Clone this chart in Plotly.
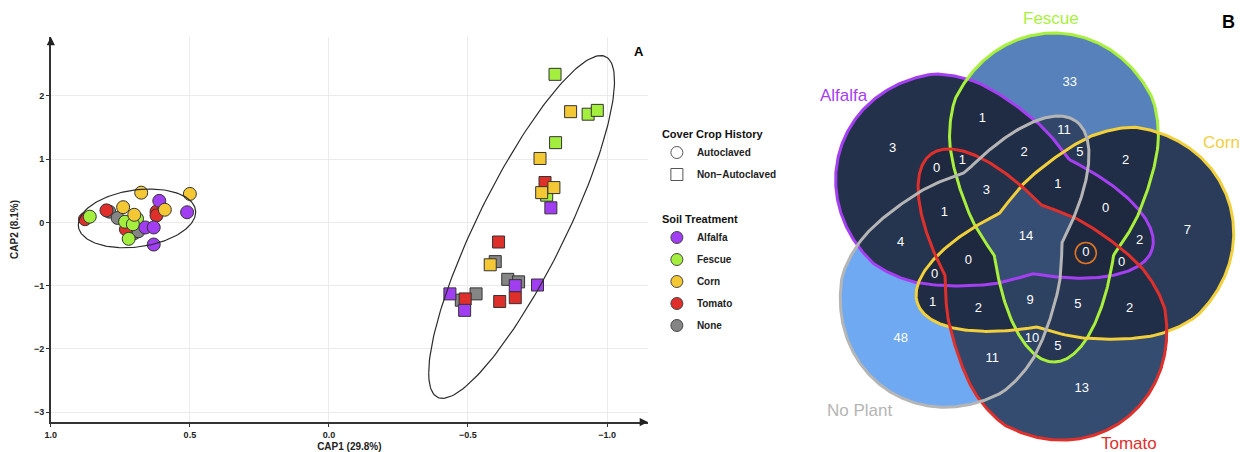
import numpy as np
import plotly.graph_objects as go

# the page body keeps an 8 px margin, so the figure is shifted by it
W, H = 1249, 452
OFF = 8
FW, FH = W - OFF, H - OFF
FONT = "Liberation Sans, Arial, Helvetica, sans-serif"

# ---------------- panel A data: CAP scores ----------------
treatments = ["Alfalfa", "Fescue", "Corn", "Tomato", "None"]
treatment_colors = ["#a23ef2", "#a4ef3e", "#f4c834", "#df2f2b", "#858585"]
draw_order = ["None", "Tomato", "Fescue", "Alfalfa", "Corn"]

# autoclaved soil (circles)
auto_treatment = ["Alfalfa"] * 5 + ["Fescue"] * 5 + ["Corn"] * 5 + ["Tomato"] * 5 + ["None"] * 5
auto_cap1 = [0.66, 0.63, 0.63, 0.61, 0.51,
             0.86, 0.733, 0.69, 0.72, 0.705,
             0.74, 0.675, 0.70, 0.59, 0.50,
             0.877, 0.80, 0.62, 0.62, 0.73,
             0.79, 0.76, 0.72, 0.70, 0.685]
auto_cap2 = [-0.08, -0.08, -0.35, 0.34, 0.16,
             0.09, 0.01, 0.06, -0.26, -0.03,
             0.24, 0.47, 0.12, 0.20, 0.45,
             0.05, 0.19, 0.17, 0.11, -0.11,
             0.17, 0.07, -0.11, -0.17, -0.14]

# non-autoclaved soil (squares)
nonauto_treatment = ["Alfalfa"] * 5 + ["Fescue"] * 5 + ["Corn"] * 5 + ["Tomato"] * 5 + ["None"] * 5
nonauto_cap1 = [-0.798, -0.670, -0.750, -0.435, -0.488,
                -0.813, -0.932, -0.965, -0.815, -0.783,
                -0.869, -0.759, -0.765, -0.809, -0.580,
                -0.777, -0.610, -0.670, -0.614, -0.490,
                -0.598, -0.643, -0.682, -0.476, -0.529]
nonauto_cap2 = [0.23, -1.00, -0.99, -1.13, -1.39,
                2.34, 1.71, 1.77, 1.26, 0.43,
                1.75, 1.01, 0.47, 0.55, -0.67,
                0.63, -0.31, -1.19, -1.25, -1.21,
                -0.62, -0.90, -0.94, -1.23, -1.13]

x_ticks = [1.0, 0.5, 0.0, -0.5, -1.0]
y_ticks = [-3, -2, -1, 0, 1, 2]
ELLIPSE_RADIUS = 2.3

# ---------------- panel B data: Venn counts ----------------
venn_sets = ["Alfalfa", "Fescue", "Corn", "Tomato", "No Plant"]
venn_letters = ["A", "F", "C", "T", "N"]
venn_regions = ["A", "F", "C", "T", "N",
                "AF", "FC", "CT", "TN", "AN",
                "AT", "FN", "AC", "FT", "CN",
                "AFN", "AFC", "FCT", "CTN", "ATN",
                "AFT", "FCN", "ACT", "FTN", "ACN",
                "AFTN", "AFCT", "ACTN", "AFCN", "FCTN",
                "AFCTN"]
venn_counts = [3, 33, 7, 13, 48,
               1, 2, 2, 11, 4,
               0, 11, 2, 5, 1,
               2, 0, 5, 2, 1,
               1, 5, 0, 10, 0,
               3, 0, 0, 1, 9,
               14]
venn_highlight = "AFCT"


def px(x, y):
    return (x - OFF) / FW, 1 - (y - OFF) / FH


fig = go.Figure()

# ---------------- panel A ----------------
for hist_t, hist_x, hist_y, sym, size in [
    (auto_treatment, auto_cap1, auto_cap2, "circle", 13),
    (nonauto_treatment, nonauto_cap1, nonauto_cap2, "square", 12),
]:
    for name in draw_order:
        col = treatment_colors[treatments.index(name)]
        xs = [x for x, t in zip(hist_x, hist_t) if t == name]
        ys = [y for y, t in zip(hist_y, hist_t) if t == name]
        fig.add_trace(go.Scatter(
            x=xs, y=ys, mode="markers", showlegend=False, hoverinfo="skip",
            marker=dict(symbol=sym, size=size, color=col,
                        line=dict(color="#333333", width=1)),
        ))

    pts = np.column_stack([hist_x, hist_y])
    centre = pts.mean(axis=0)
    chol = np.linalg.cholesky(np.cov(pts.T))
    t = np.linspace(0, 2 * np.pi, 200)
    ring = centre[:, None] + ELLIPSE_RADIUS * chol @ np.vstack([np.cos(t), np.sin(t)])
    fig.add_trace(go.Scatter(
        x=ring[0], y=ring[1], mode="lines", showlegend=False, hoverinfo="skip",
        line=dict(color="#2b2b2b", width=1.2),
    ))

# legend entries (one group per entry so the spacing can be opened up)
fig.add_trace(go.Scatter(
    x=[None], y=[None], mode="markers", name="Autoclaved",
    legendgroup="h1", legendgrouptitle_text="Cover Crop History",
    marker=dict(symbol="circle-open", size=12, color="#555555", line=dict(width=1)),
))
fig.add_trace(go.Scatter(
    x=[None], y=[None], mode="markers", name="Non\u2212Autoclaved",
    legendgroup="h2",
    marker=dict(symbol="square-open", size=12, color="#555555", line=dict(width=1)),
))
fig.add_trace(go.Scatter(
    x=[None], y=[None], mode="markers", name=" ", legendgroup="gap",
    marker=dict(size=1, color="rgba(0,0,0,0)"),
))
for i, (name, col) in enumerate(zip(treatments, treatment_colors)):
    fig.add_trace(go.Scatter(
        x=[None], y=[None], mode="markers", name=name,
        legendgroup=f"s{i}", legendgrouptitle_text="Soil Treatment" if i == 0 else None,
        marker=dict(symbol="circle", size=12, color=col, line=dict(color="#444444", width=1)),
    ))

# ---------------- panel B: five-set Venn ----------------
# teardrop shape, local frame: u along axis (head end positive), p to the right
U_MIN, U_MAX, P_OFF = -124.0, 205.0, 28.0
S_CTRL = [-1.0, -0.35, -0.26, -0.14, 0.33, 0.6, 1.0]
G_CTRL = [64, 64, 73, 83, 111, 124, 130]
set_angles = [162, 90, 18, -54, -126]
set_line_colors = ["#a540f2", "#a8f03c", "#f2d03c", "#e0302c", "#b5b5b5"]
u_mid, u_half = (U_MIN + U_MAX) / 2, (U_MAX - U_MIN) / 2
VENN_CX, VENN_CY = 1025, 238  # page pixel of the diagram centre


def half_width(u):
    s = np.clip((u - u_mid) / u_half, -1, 1)
    return np.sqrt(np.clip(1 - s ** 2, 0, None)) * np.interp(s, S_CTRL, G_CTRL)


gx = np.arange(-224, 225, 2.0)
gy = np.arange(-213, 238, 2.0)
GX, GY = np.meshgrid(gx, gy)
lab = np.zeros(GX.shape, dtype=int)
outlines = []
for k, ang in enumerate(set_angles):
    th = np.radians(ang)
    eu = np.array([np.cos(th), np.sin(th)])
    ep = np.array([np.sin(th), -np.cos(th)])
    u = GX * eu[0] + GY * eu[1]
    p = GX * ep[0] + GY * ep[1]
    inside = (u > U_MIN) & (u < U_MAX) & (np.abs(p - P_OFF) < half_width(u))
    lab |= inside.astype(int) << k
    tt = np.linspace(0, np.pi, 240)
    uu = u_mid - u_half * np.cos(tt)
    hh = half_width(uu)
    uo = np.concatenate([uu, uu[::-1], uu[:1]])
    po = np.concatenate([P_OFF + hh, (P_OFF - hh)[::-1], [P_OFF + hh[0]]])
    outlines.append((uo * eu[0] + po * ep[0], uo * eu[1] + po * ep[1]))

Z = np.full(GX.shape, np.nan)
label_x, label_y, label_txt = [], [], []
hl_pos = None


def depth_map(m):
    d = np.zeros(m.shape, dtype=int)
    cur = m.copy()
    while cur.any():
        d += cur
        nxt = cur.copy()
        nxt[1:, :] &= cur[:-1, :]
        nxt[:-1, :] &= cur[1:, :]
        nxt[:, 1:] &= cur[:, :-1]
        nxt[:, :-1] &= cur[:, 1:]
        nxt[0, :] = nxt[-1, :] = False
        nxt[:, 0] = nxt[:, -1] = False
        cur = nxt
    return d


for key, cnt in zip(venn_regions, venn_counts):
    code = sum(1 << venn_letters.index(c) for c in key)
    m = lab == code
    if not m.any():
        continue
    Z[m] = cnt
    d = depth_map(m)
    # centroid if it sits well inside the region, otherwise the deepest cell
    ry, rx = np.nonzero(m)
    cy, cx = int(round(ry.mean())), int(round(rx.mean()))
    if d[cy, cx] >= 0.55 * d.max():
        jy, jx = cy, cx
    else:
        iy, ix = np.nonzero(d == d.max())
        j = np.argmin((iy - iy.mean()) ** 2 + (ix - ix.mean()) ** 2)
        jy, jx = iy[j], ix[j]
    label_x.append(gx[jx])
    label_y.append(gy[jy])
    label_txt.append(str(cnt))
    if key == venn_highlight:
        hl_pos = (gx[jx], gy[jy])

fig.add_trace(go.Heatmap(
    x=gx, y=gy, z=Z, zmin=0, zmax=max(venn_counts),
    colorscale=[[0, "#1e2940"], [1, "#6fa9f2"]], showscale=False,
    hoverinfo="skip", xaxis="x2", yaxis="y2",
))
for (ox, oy), col in zip(outlines, set_line_colors):
    fig.add_trace(go.Scatter(
        x=ox, y=oy, mode="lines", showlegend=False, hoverinfo="skip",
        line=dict(color=col, width=3), xaxis="x2", yaxis="y2",
    ))
fig.add_trace(go.Scatter(
    x=label_x, y=label_y, text=label_txt, mode="text", showlegend=False,
    hoverinfo="skip", textfont=dict(family=FONT, size=13, color="white"),
    xaxis="x2", yaxis="y2",
))
if hl_pos is not None:
    fig.add_trace(go.Scatter(
        x=[hl_pos[0]], y=[hl_pos[1]], mode="markers", showlegend=False,
        hoverinfo="skip", xaxis="x2", yaxis="y2",
        marker=dict(symbol="circle-open", size=21, color="#e0731f", line=dict(width=1.6)),
    ))

annotations = []
for name, col, (lx, ly) in zip(
    venn_sets, set_line_colors,
    [(842, 95), (1050, 19), (1221, 142), (1128, 443), (858, 410)],
):
    ax_, ay_ = px(lx, ly)
    annotations.append(dict(
        x=ax_, y=ay_, xref="paper", yref="paper", text=name, showarrow=False,
        font=dict(family=FONT, size=17, color=col if name != "Corn" else "#f0d040"),
        xanchor="center", yanchor="middle",
    ))

# panel letters
for letter, (lx, ly), size in [("A", (636, 52), 13), ("B", (1228, 22), 18)]:
    ax_, ay_ = px(lx, ly)
    annotations.append(dict(
        x=ax_, y=ay_, xref="paper", yref="paper", text=f"<b>{letter}</b>",
        showarrow=False, font=dict(family=FONT, size=size, color="black"),
        xanchor="center", yanchor="middle",
    ))

# axis arrows
X_RANGE = [1.0, -1.147]
Y_RANGE = [-3.155, 2.93]
annotations.append(dict(x=X_RANGE[1], y=Y_RANGE[0], xref="x", yref="y", ax=-9, ay=0,
                        axref="pixel", ayref="pixel", text="", showarrow=True,
                        arrowhead=2, arrowsize=1.1, arrowwidth=1.5, arrowcolor="#222222"))
annotations.append(dict(x=X_RANGE[0], y=Y_RANGE[1], xref="x", yref="y", ax=0, ay=9,
                        axref="pixel", ayref="pixel", text="", showarrow=True,
                        arrowhead=2, arrowsize=1.1, arrowwidth=1.5, arrowcolor="#222222"))

axis_common = dict(
    showgrid=True, gridcolor="#ebebeb", gridwidth=1, zeroline=False,
    showline=True, linecolor="#333333", linewidth=1.5,
    ticks="outside", ticklen=3, tickcolor="#333333",
    tickfont=dict(family=FONT, size=9, color="#222222", weight="bold"),
    fixedrange=True,
)
x0, y0 = px(45, 422)
x1, y1 = px(645, 37)
vx0, _ = px(800, 0)

fig.update_layout(
    width=FW, height=FH,
    margin=dict(l=0, r=0, t=0, b=0),
    paper_bgcolor="white", plot_bgcolor="white",
    font=dict(family=FONT, color="#222222"),
    xaxis=dict(domain=[x0, x1], range=X_RANGE, tickvals=x_ticks, tickformat=".1f",
               title=dict(text="CAP1 (29.8%)", standoff=4,
                          font=dict(family=FONT, size=10, weight="bold")),
               **axis_common),
    yaxis=dict(domain=[y0, y1], range=Y_RANGE, tickvals=y_ticks,
               title=dict(text="CAP2 (8.1%)", standoff=14,
                          font=dict(family=FONT, size=10, weight="bold")),
               **axis_common),
    xaxis2=dict(domain=[vx0, 1], range=[800 - VENN_CX, W - VENN_CX],
                visible=False, fixedrange=True),
    yaxis2=dict(domain=[0, 1], range=[VENN_CY - H, VENN_CY - OFF],
                visible=False, fixedrange=True, anchor="x2"),
    legend=dict(
        x=px(654, 0)[0], y=px(0, 119)[1], xanchor="left", yanchor="top",
        traceorder="grouped", tracegroupgap=3,
        font=dict(family=FONT, size=10, color="#222222", weight="bold"),
        grouptitlefont=dict(family=FONT, size=11, color="#111111", weight="bold"),
        bgcolor="rgba(0,0,0,0)",
    ),
    annotations=annotations,
)

fig.write_html("out.html")
